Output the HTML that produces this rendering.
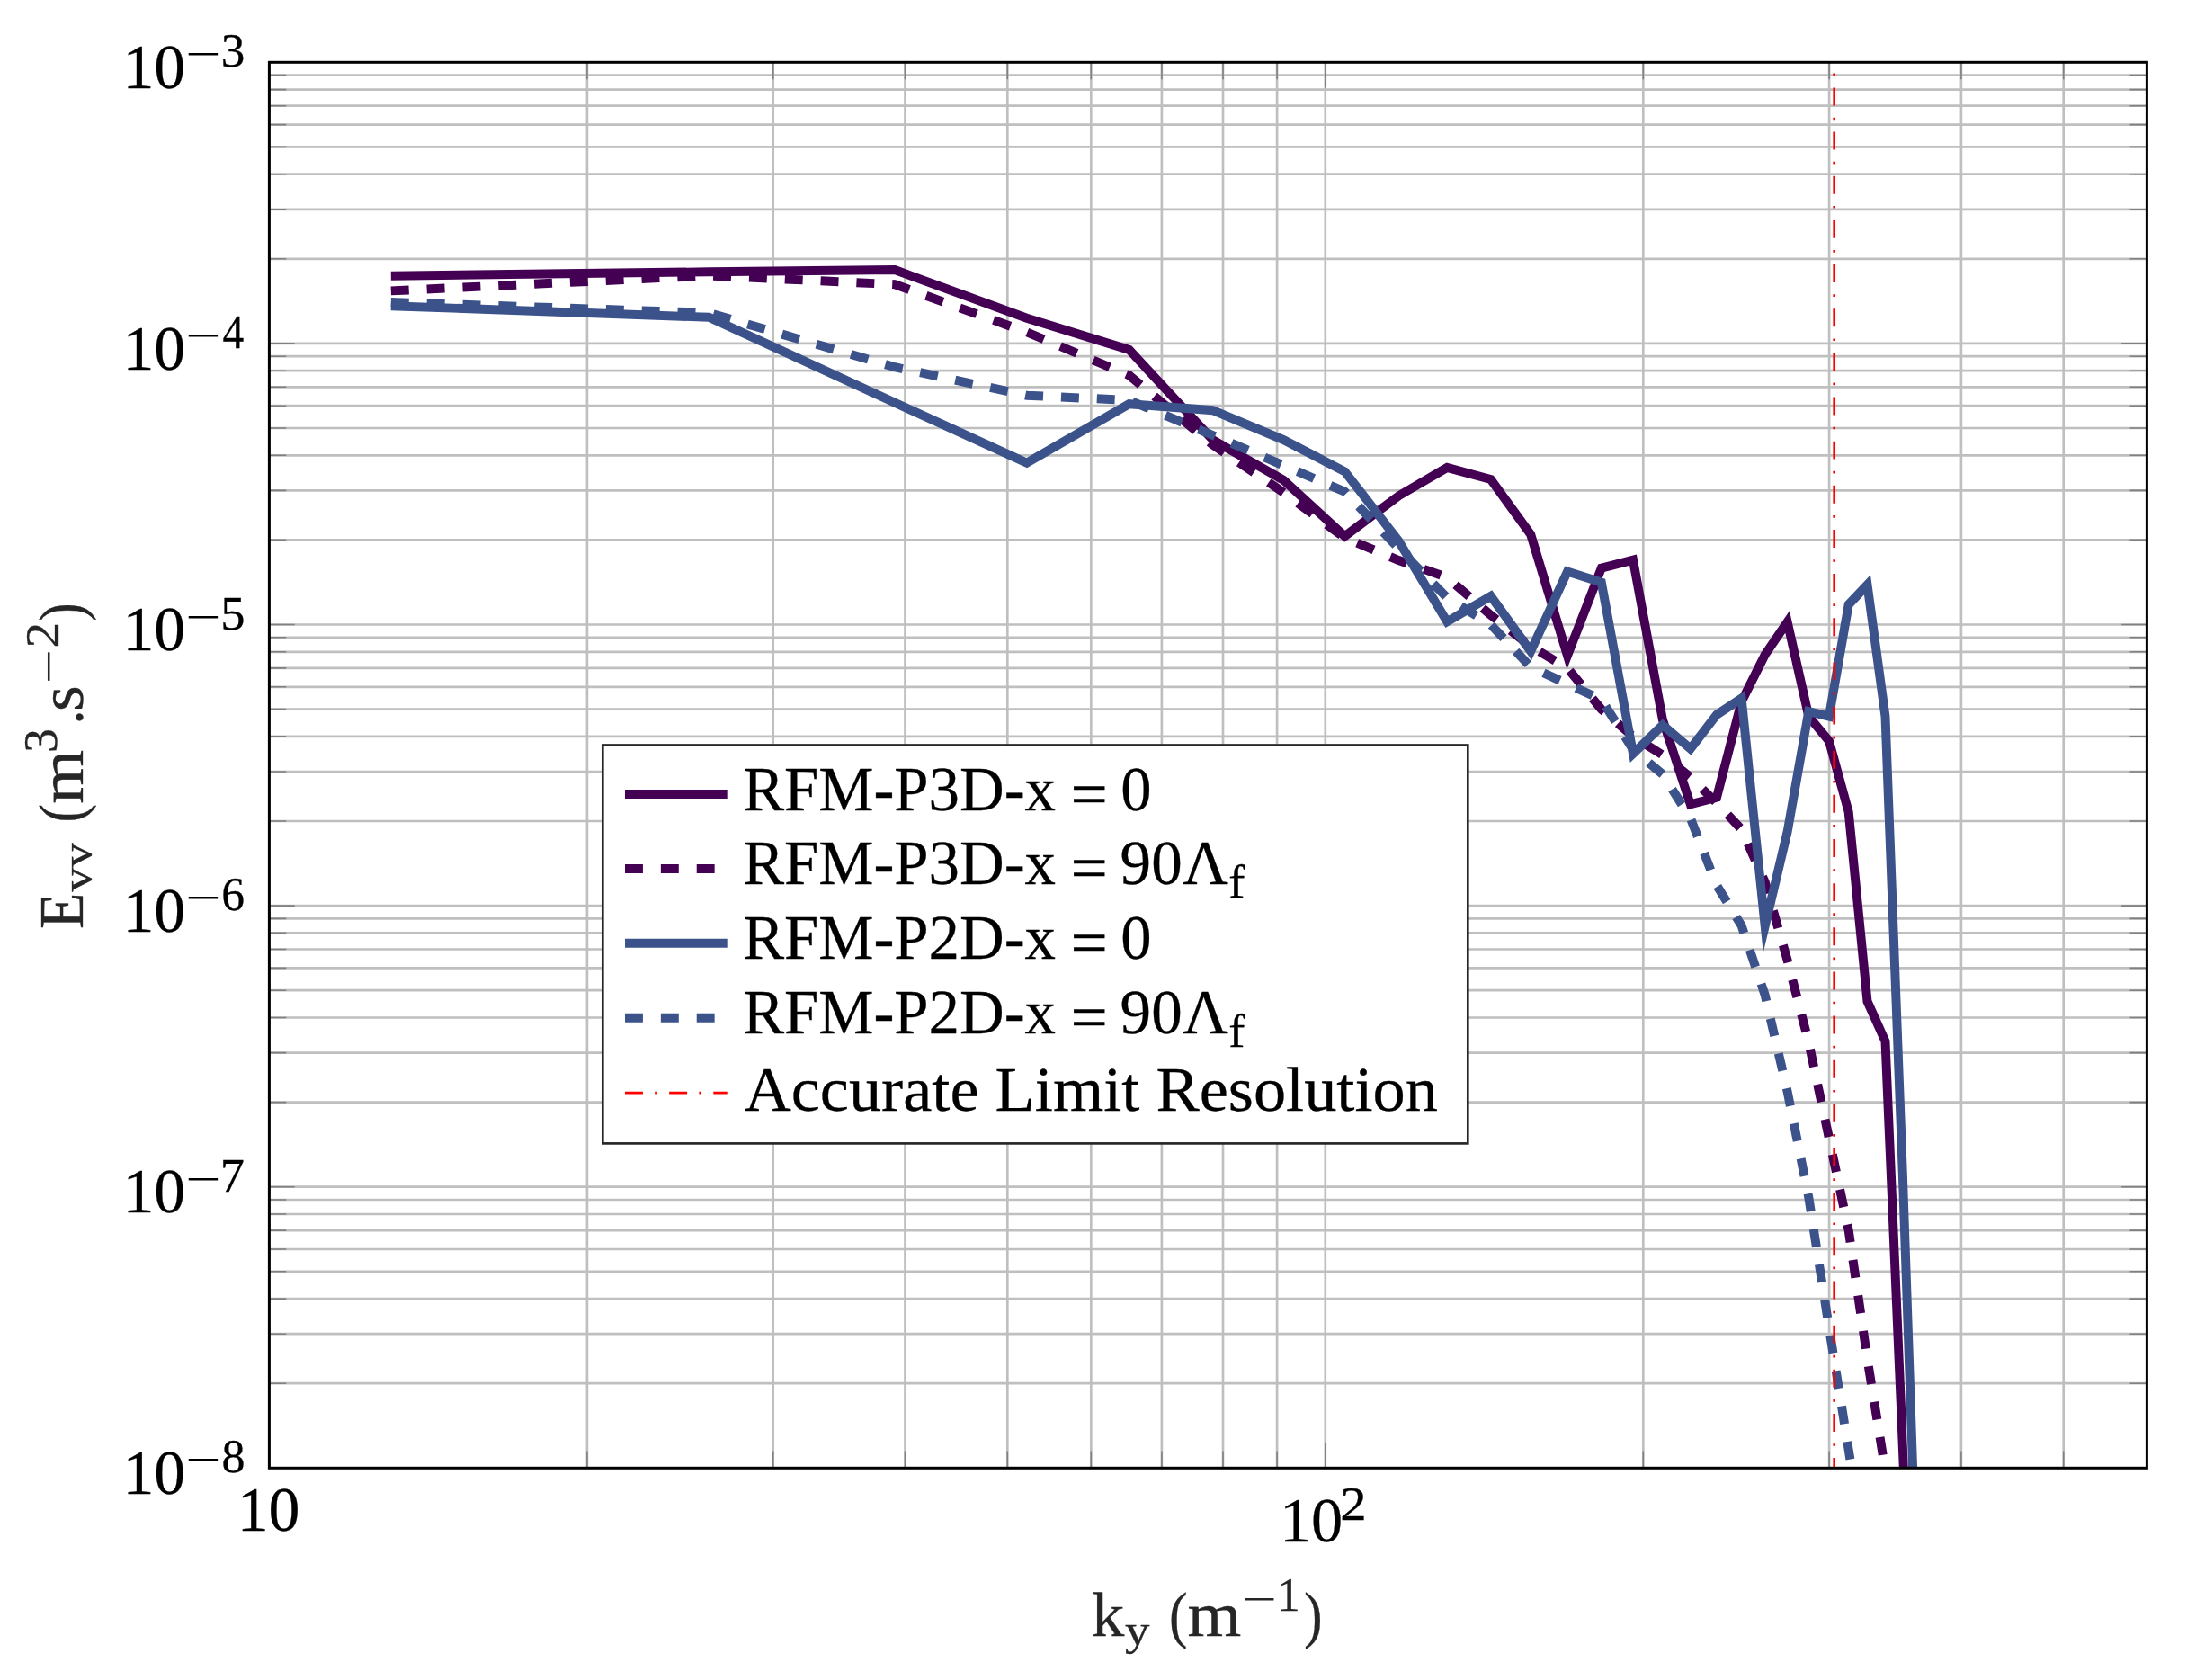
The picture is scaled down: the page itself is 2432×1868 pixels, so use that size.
<!DOCTYPE html>
<html><head><meta charset="utf-8"><title>Evv spectrum</title>
<style>
html,body{margin:0;padding:0;background:#fff;}
body{width:2432px;height:1868px;overflow:hidden;}
svg{display:block;}
text{font-family:"Liberation Serif",serif;stroke-width:0.3px;}
</style></head><body>
<svg width="2432" height="1868" viewBox="0 0 2432 1868">
<rect width="2432" height="1868" fill="#fff"/>
<defs><clipPath id="c"><rect x="299.4" y="69.3" width="2088.0" height="1563.0"/></clipPath></defs>

<path d="M652.9 69.3V1632.3 M859.7 69.3V1632.3 M1006.5 69.3V1632.3 M1120.3 69.3V1632.3 M1213.3 69.3V1632.3 M1291.9 69.3V1632.3 M1360.0 69.3V1632.3 M1420.1 69.3V1632.3 M1827.3 69.3V1632.3 M2034.1 69.3V1632.3 M2180.9 69.3V1632.3 M2294.7 69.3V1632.3 M1473.8 69.3V1632.3 M299.4 1538.2H2387.4 M299.4 1483.2H2387.4 M299.4 1444.1H2387.4 M299.4 1413.8H2387.4 M299.4 1389.0H2387.4 M299.4 1368.1H2387.4 M299.4 1350.0H2387.4 M299.4 1334.0H2387.4 M299.4 1319.7H2387.4 M299.4 1225.6H2387.4 M299.4 1170.6H2387.4 M299.4 1131.5H2387.4 M299.4 1101.2H2387.4 M299.4 1076.4H2387.4 M299.4 1055.5H2387.4 M299.4 1037.4H2387.4 M299.4 1021.4H2387.4 M299.4 1007.1H2387.4 M299.4 913.0H2387.4 M299.4 858.0H2387.4 M299.4 818.9H2387.4 M299.4 788.6H2387.4 M299.4 763.8H2387.4 M299.4 742.9H2387.4 M299.4 724.8H2387.4 M299.4 708.8H2387.4 M299.4 694.5H2387.4 M299.4 600.4H2387.4 M299.4 545.4H2387.4 M299.4 506.3H2387.4 M299.4 476.0H2387.4 M299.4 451.2H2387.4 M299.4 430.3H2387.4 M299.4 412.2H2387.4 M299.4 396.2H2387.4 M299.4 381.9H2387.4 M299.4 287.8H2387.4 M299.4 232.8H2387.4 M299.4 193.7H2387.4 M299.4 163.4H2387.4 M299.4 138.6H2387.4 M299.4 117.7H2387.4 M299.4 99.6H2387.4 M299.4 83.6H2387.4" stroke="#bfbfbf" stroke-width="2.66" fill="none"/>
<path d="M652.9 1632.3v-18.9M652.9 69.3v18.9 M859.7 1632.3v-18.9M859.7 69.3v18.9 M1006.5 1632.3v-18.9M1006.5 69.3v18.9 M1120.3 1632.3v-18.9M1120.3 69.3v18.9 M1213.3 1632.3v-18.9M1213.3 69.3v18.9 M1291.9 1632.3v-18.9M1291.9 69.3v18.9 M1360.0 1632.3v-18.9M1360.0 69.3v18.9 M1420.1 1632.3v-18.9M1420.1 69.3v18.9 M1827.3 1632.3v-18.9M1827.3 69.3v18.9 M2034.1 1632.3v-18.9M2034.1 69.3v18.9 M2180.9 1632.3v-18.9M2180.9 69.3v18.9 M2294.7 1632.3v-18.9M2294.7 69.3v18.9 M1473.8 1632.3v-28.3M1473.8 69.3v28.3 M299.4 1538.2h18.9M2387.4 1538.2h-18.9 M299.4 1483.2h18.9M2387.4 1483.2h-18.9 M299.4 1444.1h18.9M2387.4 1444.1h-18.9 M299.4 1413.8h18.9M2387.4 1413.8h-18.9 M299.4 1389.0h18.9M2387.4 1389.0h-18.9 M299.4 1368.1h18.9M2387.4 1368.1h-18.9 M299.4 1350.0h18.9M2387.4 1350.0h-18.9 M299.4 1334.0h18.9M2387.4 1334.0h-18.9 M299.4 1319.7h28.3M2387.4 1319.7h-28.3 M299.4 1225.6h18.9M2387.4 1225.6h-18.9 M299.4 1170.6h18.9M2387.4 1170.6h-18.9 M299.4 1131.5h18.9M2387.4 1131.5h-18.9 M299.4 1101.2h18.9M2387.4 1101.2h-18.9 M299.4 1076.4h18.9M2387.4 1076.4h-18.9 M299.4 1055.5h18.9M2387.4 1055.5h-18.9 M299.4 1037.4h18.9M2387.4 1037.4h-18.9 M299.4 1021.4h18.9M2387.4 1021.4h-18.9 M299.4 1007.1h28.3M2387.4 1007.1h-28.3 M299.4 913.0h18.9M2387.4 913.0h-18.9 M299.4 858.0h18.9M2387.4 858.0h-18.9 M299.4 818.9h18.9M2387.4 818.9h-18.9 M299.4 788.6h18.9M2387.4 788.6h-18.9 M299.4 763.8h18.9M2387.4 763.8h-18.9 M299.4 742.9h18.9M2387.4 742.9h-18.9 M299.4 724.8h18.9M2387.4 724.8h-18.9 M299.4 708.8h18.9M2387.4 708.8h-18.9 M299.4 694.5h28.3M2387.4 694.5h-28.3 M299.4 600.4h18.9M2387.4 600.4h-18.9 M299.4 545.4h18.9M2387.4 545.4h-18.9 M299.4 506.3h18.9M2387.4 506.3h-18.9 M299.4 476.0h18.9M2387.4 476.0h-18.9 M299.4 451.2h18.9M2387.4 451.2h-18.9 M299.4 430.3h18.9M2387.4 430.3h-18.9 M299.4 412.2h18.9M2387.4 412.2h-18.9 M299.4 396.2h18.9M2387.4 396.2h-18.9 M299.4 381.9h28.3M2387.4 381.9h-28.3 M299.4 287.8h18.9M2387.4 287.8h-18.9 M299.4 232.8h18.9M2387.4 232.8h-18.9 M299.4 193.7h18.9M2387.4 193.7h-18.9 M299.4 163.4h18.9M2387.4 163.4h-18.9 M299.4 138.6h18.9M2387.4 138.6h-18.9 M299.4 117.7h18.9M2387.4 117.7h-18.9 M299.4 99.6h18.9M2387.4 99.6h-18.9 M299.4 83.6h18.9M2387.4 83.6h-18.9" stroke="#808080" stroke-width="1.6" fill="none"/>
<g clip-path="url(#c)" fill="none" stroke-width="9.96" stroke-linejoin="miter" stroke-miterlimit="10">
<path d="M434.8 306.7 L788.3 302.3 L995.1 300.1 L1141.8 353.8 L1255.7 388.9 L1348.6 489.1 L1427.3 533.9 L1495.4 596.2 L1555.4 551.3 L1609.2 519.9 L1657.8 533.0 L1702.2 594.3 L1743.0 729.1 L1780.8 631.7 L1816.0 622.6 L1848.9 800.3 L1879.8 894.2 L1909.0 886.7 L1936.6 780.2 L1962.7 728.0 L1987.6 691.5 L2011.3 796.6 L2034.0 824.0 L2055.7 903.0 L2076.5 1113.4 L2096.5 1157.8 L2115.8 1608.0 L2134.3 2050.0" stroke="#440154"/>
<path d="M434.8 323.4 L788.3 306.5 L995.1 316.2 L1141.8 369.3 L1255.7 417.4 L1348.6 494.6 L1427.3 547.6 L1495.4 598.0 L1555.4 623.0 L1609.2 642.0 L1657.8 683.9 L1702.2 718.7 L1743.0 742.8 L1780.8 788.7 L1816.0 818.9 L1848.9 839.5 L1879.8 864.3 L1909.0 892.8 L1936.6 922.2 L1962.7 980.8 L1987.6 1067.6 L2011.3 1159.1 L2034.0 1265.8 L2055.7 1368.0 L2076.5 1511.0 L2096.5 1635.0 L2115.8 1760.0" stroke="#440154" stroke-dasharray="19.93 19.93"/>
<path d="M434.8 340.2 L788.3 352.8 L995.1 447.7 L1141.8 514.7 L1255.7 449.2 L1348.6 456.2 L1427.3 489.1 L1495.4 524.3 L1555.4 601.6 L1609.2 691.2 L1657.8 662.9 L1702.2 724.2 L1743.0 635.5 L1780.8 647.6 L1816.0 838.0 L1848.9 806.3 L1879.8 832.6 L1909.0 794.8 L1936.6 776.5 L1962.7 1029.6 L1987.6 925.0 L2011.3 791.1 L2034.0 796.6 L2055.7 672.2 L2076.5 650.3 L2096.5 796.6 L2115.8 1304.5 L2134.3 1841.0" stroke="#3b528b"/>
<path d="M434.8 336.0 L788.3 347.9 L995.1 408.2 L1141.8 439.7 L1255.7 445.0 L1348.6 484.0 L1427.3 517.5 L1495.4 546.7 L1555.4 609.9 L1609.2 664.7 L1657.8 694.4 L1702.2 741.8 L1743.0 760.5 L1780.8 777.8 L1816.0 833.5 L1848.9 861.0 L1879.8 909.7 L1909.0 984.4 L1936.6 1029.2 L1962.7 1106.4 L1987.6 1213.5 L2011.3 1331.5 L2034.0 1476.6 L2055.7 1612.0 L2076.5 1743.0" stroke="#3b528b" stroke-dasharray="19.93 19.93"/>
<path d="M2039.7 48.3V1632.3" stroke="#ff0000" stroke-width="2.66" stroke-dasharray="19.93 13.28 2.66 13.28"/>
</g>
<rect x="299.4" y="69.3" width="2088.0" height="1563.0" fill="none" stroke="#000" stroke-width="3"/>
<rect x="670.3" y="828.5" width="962.0" height="442.9000000000001" fill="#fff" stroke="#262626" stroke-width="2.66"/>
<path d="M695 883H808.7" stroke="#440154" stroke-width="9.96"/>
<path d="M695 966H808.7" stroke="#440154" stroke-width="9.96" stroke-dasharray="19.93 19.93"/>
<path d="M695 1048.8H808.7" stroke="#3b528b" stroke-width="9.96"/>
<path d="M695 1131.8H808.7" stroke="#3b528b" stroke-width="9.96" stroke-dasharray="19.93 19.93"/>
<path d="M695 1215.2H808.7" stroke="#ff0000" stroke-width="2.66" stroke-dasharray="19.93 13.28 2.66 13.28"/>
<text fill="#000" stroke="#000"><tspan x="826.2" y="900.5" font-size="69" textLength="347.8" lengthAdjust="spacingAndGlyphs">RFM-P3D-x</tspan> <tspan x="1190.4" y="906.5" font-size="69" textLength="41.3" lengthAdjust="spacingAndGlyphs">=</tspan> <tspan x="1246.3" y="900.5" font-size="69" textLength="34.3" lengthAdjust="spacingAndGlyphs">0</tspan></text>
<text fill="#000" stroke="#000"><tspan x="826.2" y="983.4" font-size="69" textLength="347.8" lengthAdjust="spacingAndGlyphs">RFM-P3D-x</tspan> <tspan x="1190.4" y="989.4" font-size="69" textLength="41.3" lengthAdjust="spacingAndGlyphs">=</tspan> <tspan x="1245.6" y="983.4" font-size="69" textLength="69.1" lengthAdjust="spacingAndGlyphs">90</tspan><tspan x="1315.2" y="983.4" font-size="69" textLength="50.8" lengthAdjust="spacingAndGlyphs">Λ</tspan><tspan x="1366.3" y="997.5" font-size="52" textLength="18.2" lengthAdjust="spacingAndGlyphs">f</tspan></text>
<text fill="#000" stroke="#000"><tspan x="826.2" y="1066.3" font-size="69" textLength="347.8" lengthAdjust="spacingAndGlyphs">RFM-P2D-x</tspan> <tspan x="1190.4" y="1072.3" font-size="69" textLength="41.3" lengthAdjust="spacingAndGlyphs">=</tspan> <tspan x="1246.3" y="1066.3" font-size="69" textLength="34.3" lengthAdjust="spacingAndGlyphs">0</tspan></text>
<text fill="#000" stroke="#000"><tspan x="826.2" y="1149.4" font-size="69" textLength="347.8" lengthAdjust="spacingAndGlyphs">RFM-P2D-x</tspan> <tspan x="1190.4" y="1155.4" font-size="69" textLength="41.3" lengthAdjust="spacingAndGlyphs">=</tspan> <tspan x="1245.6" y="1149.4" font-size="69" textLength="69.1" lengthAdjust="spacingAndGlyphs">90</tspan><tspan x="1315.2" y="1149.4" font-size="69" textLength="50.8" lengthAdjust="spacingAndGlyphs">Λ</tspan><tspan x="1366.3" y="1163.5" font-size="52" textLength="18.2" lengthAdjust="spacingAndGlyphs">f</tspan></text>
<text fill="#000" stroke="#000"><tspan x="827.5" y="1234.5" font-size="69" textLength="771.4" lengthAdjust="spacingAndGlyphs">Accurate Limit Resolution</tspan></text>
<text fill="#000" stroke="#000"><tspan x="136.4" y="98.0" font-size="69" textLength="69.7" lengthAdjust="spacingAndGlyphs">10</tspan><tspan x="206.5" y="77.4" font-size="51" textLength="39.3" lengthAdjust="spacingAndGlyphs" stroke="none">−</tspan><tspan x="245.8" y="74.3" font-size="53" textLength="26.6" lengthAdjust="spacingAndGlyphs">3</tspan></text>
<text fill="#000" stroke="#000"><tspan x="136.4" y="410.6" font-size="69" textLength="69.7" lengthAdjust="spacingAndGlyphs">10</tspan><tspan x="206.5" y="390.0" font-size="51" textLength="39.3" lengthAdjust="spacingAndGlyphs" stroke="none">−</tspan><tspan x="247.5" y="386.9" font-size="53" textLength="23.7" lengthAdjust="spacingAndGlyphs">4</tspan></text>
<text fill="#000" stroke="#000"><tspan x="136.4" y="723.2" font-size="69" textLength="69.7" lengthAdjust="spacingAndGlyphs">10</tspan><tspan x="206.5" y="702.6" font-size="51" textLength="39.3" lengthAdjust="spacingAndGlyphs" stroke="none">−</tspan><tspan x="245.2" y="699.5" font-size="53" textLength="27.3" lengthAdjust="spacingAndGlyphs">5</tspan></text>
<text fill="#000" stroke="#000"><tspan x="136.4" y="1035.8" font-size="69" textLength="69.7" lengthAdjust="spacingAndGlyphs">10</tspan><tspan x="206.5" y="1015.2" font-size="51" textLength="39.3" lengthAdjust="spacingAndGlyphs" stroke="none">−</tspan><tspan x="246.2" y="1012.1" font-size="53" textLength="25.7" lengthAdjust="spacingAndGlyphs">6</tspan></text>
<text fill="#000" stroke="#000"><tspan x="136.4" y="1348.4" font-size="69" textLength="69.7" lengthAdjust="spacingAndGlyphs">10</tspan><tspan x="206.5" y="1327.8" font-size="51" textLength="39.3" lengthAdjust="spacingAndGlyphs" stroke="none">−</tspan><tspan x="244.8" y="1324.7" font-size="53" textLength="27.1" lengthAdjust="spacingAndGlyphs">7</tspan></text>
<text fill="#000" stroke="#000"><tspan x="136.4" y="1661.0" font-size="69" textLength="69.7" lengthAdjust="spacingAndGlyphs">10</tspan><tspan x="206.5" y="1640.4" font-size="51" textLength="39.3" lengthAdjust="spacingAndGlyphs" stroke="none">−</tspan><tspan x="246.4" y="1637.3" font-size="53" textLength="26.0" lengthAdjust="spacingAndGlyphs">8</tspan></text>
<text fill="#000" stroke="#000"><tspan x="263.7" y="1702.0" font-size="69" textLength="69.8" lengthAdjust="spacingAndGlyphs">10</tspan></text>
<text fill="#000" stroke="#000"><tspan x="1422.9" y="1714.0" font-size="69" textLength="70.4" lengthAdjust="spacingAndGlyphs">10</tspan><tspan x="1490.2" y="1690.2" font-size="53" textLength="29.4" lengthAdjust="spacingAndGlyphs">2</tspan></text>
<text fill="#262626" stroke="#262626"><tspan x="1213.8" y="1819.0" font-size="69" textLength="36.6" lengthAdjust="spacingAndGlyphs">k</tspan><tspan x="1251.0" y="1829.0" font-size="49" textLength="27.4" lengthAdjust="spacingAndGlyphs">y</tspan> <tspan x="1300.1" y="1819.0" font-size="69" textLength="20.6" lengthAdjust="spacingAndGlyphs">(</tspan><tspan x="1320.4" y="1819.0" font-size="69" textLength="59.8" lengthAdjust="spacingAndGlyphs">m</tspan><tspan x="1380.8" y="1795.4" font-size="51" textLength="39.4" lengthAdjust="spacingAndGlyphs" stroke="none">−</tspan><tspan x="1420.3" y="1790.5" font-size="53" textLength="25.4" lengthAdjust="spacingAndGlyphs">1</tspan><tspan x="1450.0" y="1819.0" font-size="69" textLength="20.6" lengthAdjust="spacingAndGlyphs">)</tspan></text>
<g transform="translate(92 1031) rotate(-90)"><text fill="#262626" stroke="#262626"><tspan x="-1.9" y="0.0" font-size="69" textLength="40.3" lengthAdjust="spacingAndGlyphs">E</tspan><tspan x="39.6" y="10.0" font-size="49" textLength="54.2" lengthAdjust="spacingAndGlyphs">vv</tspan> <tspan x="116.6" y="0.0" font-size="69" textLength="20.5" lengthAdjust="spacingAndGlyphs">(</tspan><tspan x="137.2" y="0.0" font-size="69" textLength="60.0" lengthAdjust="spacingAndGlyphs">m</tspan><tspan x="194.0" y="-29.3" font-size="53" textLength="26.9" lengthAdjust="spacingAndGlyphs">3</tspan><tspan x="225.2" y="0.0" font-size="69" textLength="16.5" lengthAdjust="spacingAndGlyphs">.</tspan><tspan x="240.0" y="0.0" font-size="69" textLength="28.7" lengthAdjust="spacingAndGlyphs">s</tspan><tspan x="271.1" y="-21.5" font-size="51" textLength="38.2" lengthAdjust="spacingAndGlyphs" stroke="none">−</tspan><tspan x="310.5" y="-27.5" font-size="53" textLength="28.7" lengthAdjust="spacingAndGlyphs">2</tspan><tspan x="340.3" y="0.0" font-size="69" textLength="20.4" lengthAdjust="spacingAndGlyphs">)</tspan></text></g>
</svg></body></html>
